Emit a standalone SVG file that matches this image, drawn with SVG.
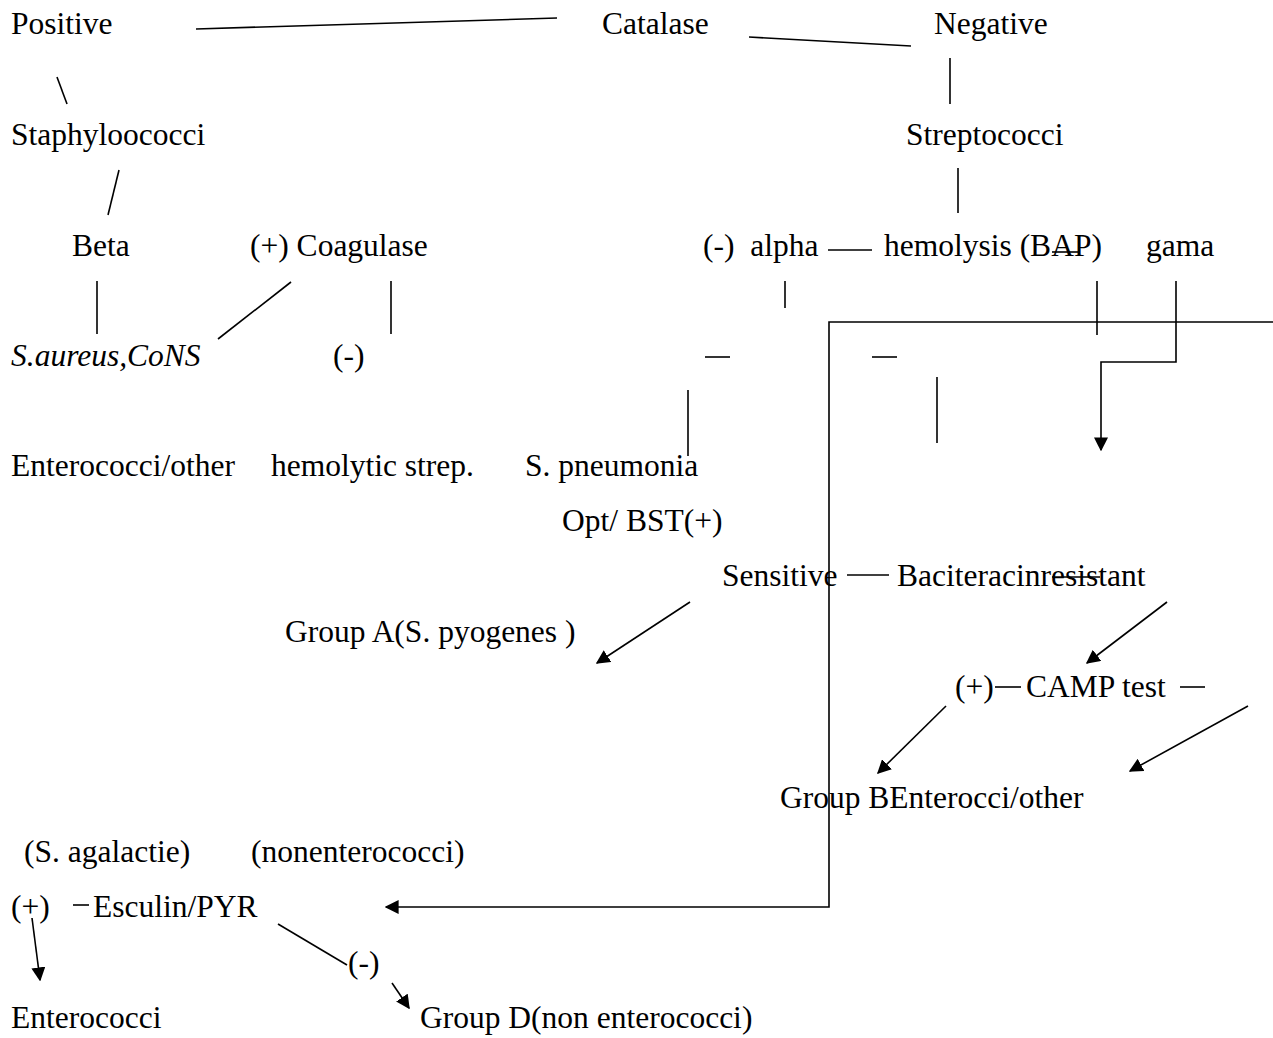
<svg xmlns="http://www.w3.org/2000/svg" width="1273" height="1038" viewBox="0 0 1273 1038">
<style>
text{font-family:"Liberation Serif","Times New Roman",serif;font-size:31.5px;fill:#000}
.it{font-style:italic}
.c line,.c path{stroke:#000;stroke-width:1.6;fill:none}
</style>
<defs>
<marker id="ahb" viewBox="0 0 10 10" refX="9" refY="5" markerWidth="14" markerHeight="14" markerUnits="userSpaceOnUse" orient="auto">
<path d="M0,0 L10,5 L0,10 z" fill="#000"/>
</marker>
</defs>
<rect width="1273" height="1038" fill="#fff"/>
<g id="n-positive"><text x="11" y="34">Positive</text></g>
<g id="n-catalase"><text x="602" y="34">Catalase</text></g>
<g id="n-negative"><text x="934" y="34">Negative</text></g>
<g id="n-staph"><text x="11" y="145">Staphyloococci</text></g>
<g id="n-strep"><text x="906" y="145">Streptococci</text></g>
<g id="n-beta"><text x="72" y="256">Beta</text></g>
<g id="n-coag"><text x="250" y="256">(+) Coagulase</text></g>
<g id="n-alpha"><text x="703" y="256" xml:space="preserve">(-)  alpha</text></g>
<g id="n-hemolysis"><text x="884" y="256">hemolysis (BAP)</text></g>
<g id="n-gama"><text x="1146" y="256">gama</text></g>
<g id="n-saureus"><text class="it" x="11" y="366">S.aureus,CoNS</text></g>
<g id="n-coagneg"><text x="333" y="366">(-)</text></g>
<g id="n-entero-other"><text x="11" y="476">Enterococci/other</text></g>
<g id="n-hemstrep"><text x="271" y="476">hemolytic strep.</text></g>
<g id="n-pneumo"><text x="525" y="476">S. pneumonia</text></g>
<g id="n-opt"><text x="562" y="531">Opt/ BST(+)</text></g>
<g id="n-sensitive"><text x="722" y="586">Sensitive</text></g>
<g id="n-bacit"><text x="897" y="586">Baciteracinresistant</text></g>
<g id="n-groupa"><text x="285" y="642">Group A(S. pyogenes )</text></g>
<g id="n-campplus"><text x="955" y="697">(+)</text></g>
<g id="n-camp"><text x="1026" y="697">CAMP test</text></g>
<g id="n-groupb"><text x="780" y="808">Group BEnterocci/other</text></g>
<g id="n-agal"><text x="24" y="862">(S. agalactie)</text></g>
<g id="n-nonent"><text x="251" y="862">(nonenterococci)</text></g>
<g id="n-escplus"><text x="11" y="917">(+)</text></g>
<g id="n-esculin"><text x="93" y="917">Esculin/PYR</text></g>
<g id="n-escneg"><text x="348" y="973">(-)</text></g>
<g id="n-enterococci"><text x="11" y="1028">Enterococci</text></g>
<g id="n-groupd"><text x="420" y="1028">Group D(non enterococci)</text></g>
<g id="connectors" class="c">
<line x1="196" y1="29" x2="557" y2="18"/>
<line x1="749" y1="37" x2="911" y2="46"/>
<line x1="57" y1="77" x2="67" y2="104"/>
<line x1="119" y1="170" x2="108" y2="215"/>
<line x1="950" y1="58" x2="950" y2="104"/>
<line x1="958" y1="168" x2="958" y2="213"/>
<line x1="97" y1="281" x2="97" y2="334"/>
<line x1="291" y1="282" x2="218" y2="339"/>
<line x1="391" y1="281" x2="391" y2="334"/>
<line x1="828" y1="250" x2="872" y2="250"/>
<line x1="1052" y1="252" x2="1078" y2="252"/>
<line x1="785" y1="281" x2="785" y2="308"/>
<line x1="1097" y1="281" x2="1097" y2="335"/>
<path d="M1176,281 V362 H1101 V450" marker-end="url(#ahb)"/>
<path d="M1273,322 H829 V907 H386" marker-end="url(#ahb)"/>
<line x1="705" y1="357" x2="730" y2="357"/>
<line x1="872" y1="357" x2="897" y2="357"/>
<line x1="688" y1="390" x2="688" y2="456"/>
<line x1="937" y1="377" x2="937" y2="443"/>
<line x1="847" y1="575" x2="889" y2="575"/>
<line x1="1052" y1="577" x2="1100" y2="577"/>
<line x1="690" y1="602" x2="597" y2="663" marker-end="url(#ahb)"/>
<line x1="1167" y1="602" x2="1087" y2="663" marker-end="url(#ahb)"/>
<line x1="995" y1="687" x2="1021" y2="687"/>
<line x1="1180" y1="687" x2="1205" y2="687"/>
<line x1="946" y1="706" x2="878" y2="773" marker-end="url(#ahb)"/>
<line x1="1248" y1="706" x2="1130" y2="771" marker-end="url(#ahb)"/>
<line x1="73" y1="905" x2="89" y2="905"/>
<line x1="32" y1="918" x2="40" y2="980" marker-end="url(#ahb)"/>
<line x1="278" y1="924" x2="347" y2="965"/>
<line x1="392" y1="983" x2="409" y2="1008" marker-end="url(#ahb)"/>
</g>
</svg>
